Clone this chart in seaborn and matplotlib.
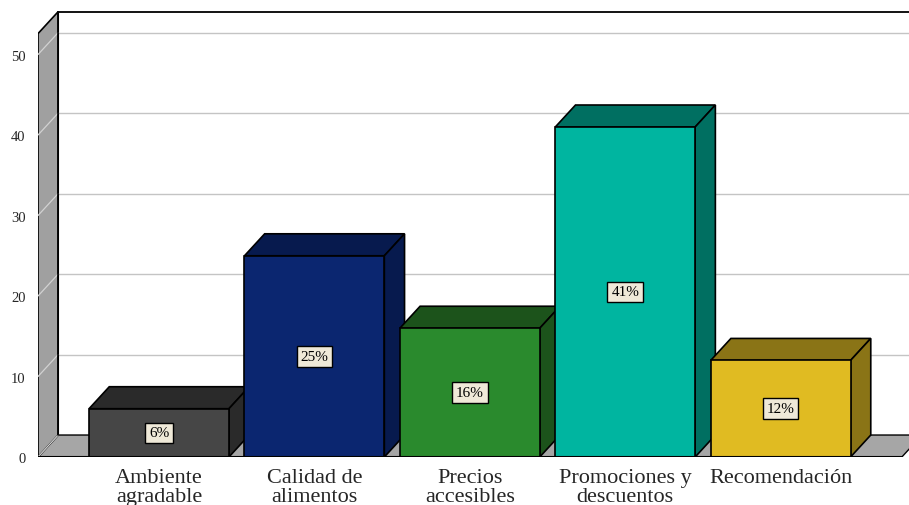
import matplotlib
matplotlib.use("Agg")
import matplotlib.pyplot as plt
from matplotlib.patches import Polygon
import seaborn as sns
import pandas as pd

# Survey results: reasons customers choose the restaurant (% of responses)
categories = ["Ambiente\nagradable", "Calidad de\nalimentos", "Precios\naccesibles",
              "Promociones y\ndescuentos", "Recomendación"]
values = [6, 25, 16, 41, 12]
front_colors = ["#464646", "#0b2670", "#2a8a2d", "#00b5a0", "#e0bb22"]
shade_colors = ["#2a2a2a", "#071a4e", "#1c531b", "#006f61", "#8a7416"]
y_ticks = [0, 10, 20, 30, 40, 50]

sns.set_style("white")
plt.rcParams["font.family"] = ["Liberation Serif", "DejaVu Serif"]

W, H = 909, 506
fig = plt.figure(figsize=(W / 100, H / 100), dpi=100)
ax = fig.add_axes([38 / W, 48 / H, 871 / W, 458 / H])

df = pd.DataFrame({"cat": categories, "val": values})
sns.barplot(data=df, x="cat", y="val", hue="cat", palette=front_colors,
            width=0.9, edgecolor="black", linewidth=1.2, legend=False,
            saturation=1, ax=ax)

# Pseudo-3D depth offsets (in data units)
DX, DY = 0.13, 2.73
x0, xr = -0.7786, 4.78
wall_top = 52.6
ax.set_xlim(x0, 4.826)
ax.set_ylim(0, 56.9)

# Floor and left wall
ax.add_patch(Polygon([(x0, 0), (xr, 0), (xr + DX, DY), (x0 + DX, DY)],
                     closed=True, facecolor="#a6a6a6", edgecolor="black",
                     linewidth=1.0, zorder=1))
ax.add_patch(Polygon([(x0, 0), (x0, wall_top), (x0 + DX, wall_top + DY), (x0 + DX, DY)],
                     closed=True, facecolor="#a0a0a0", edgecolor="black",
                     linewidth=1.2, zorder=1))

# Gridlines on the back wall and their continuation across the side wall
for v in y_ticks:
    if v > 0:
        ax.plot([x0 + DX, 6], [v + DY, v + DY], color="#c4c4c4", lw=1.0, zorder=0.5)
    ax.plot([x0, x0 + DX], [v, v + DY], color="#d2d2d2", lw=0.9, zorder=1.5)

# Back wall outline
ax.plot([x0 + DX, 6], [wall_top + DY, wall_top + DY], color="black", lw=1.3, zorder=1.2)
ax.plot([x0 + DX, x0 + DX], [DY, wall_top + DY], color="black", lw=1.2, zorder=1.6)
# Front base line
ax.plot([x0, xr], [0, 0], color="black", lw=1.5, zorder=10)

# Extrude every bar: top and side faces plus value labels
bars = sorted(ax.patches[:len(values)], key=lambda p: p.get_x())
for i, (bar, v) in enumerate(zip(bars, values)):
    z = 3 + i * 0.1
    bx, bw = bar.get_x(), bar.get_width()
    h = bar.get_height()
    bar.set_zorder(z + 0.05)
    top = Polygon([(bx, h), (bx + DX, h + DY), (bx + bw + DX, h + DY), (bx + bw, h)],
                  closed=True, facecolor=shade_colors[i], edgecolor="black",
                  linewidth=1.2, zorder=z)
    side = Polygon([(bx + bw, 0), (bx + bw, h), (bx + bw + DX, h + DY), (bx + bw + DX, DY)],
                   closed=True, facecolor=shade_colors[i], edgecolor="black",
                   linewidth=1.2, zorder=z)
    ax.add_patch(top)
    ax.add_patch(side)
    ax.text(bx + bw / 2, h / 2, f"{v}%", ha="center", va="center", fontsize=11,
            color="black", zorder=z + 0.08,
            bbox=dict(boxstyle="square,pad=0.25", facecolor="#efe9d8",
                      edgecolor="black", linewidth=1.0))

ax.set_yticks(y_ticks)
ax.set_yticklabels([str(t) for t in y_ticks], fontsize=10.5)
ax.tick_params(axis="y", length=0, pad=9)
ax.tick_params(axis="x", length=0, pad=8, labelsize=16)
for lbl in ax.get_xticklabels():
    lbl.set_linespacing(0.97)
ax.set_xlabel("")
ax.set_ylabel("")
for s in ax.spines.values():
    s.set_visible(False)
ax.grid(False)

fig.savefig("out.png", dpi=100)
